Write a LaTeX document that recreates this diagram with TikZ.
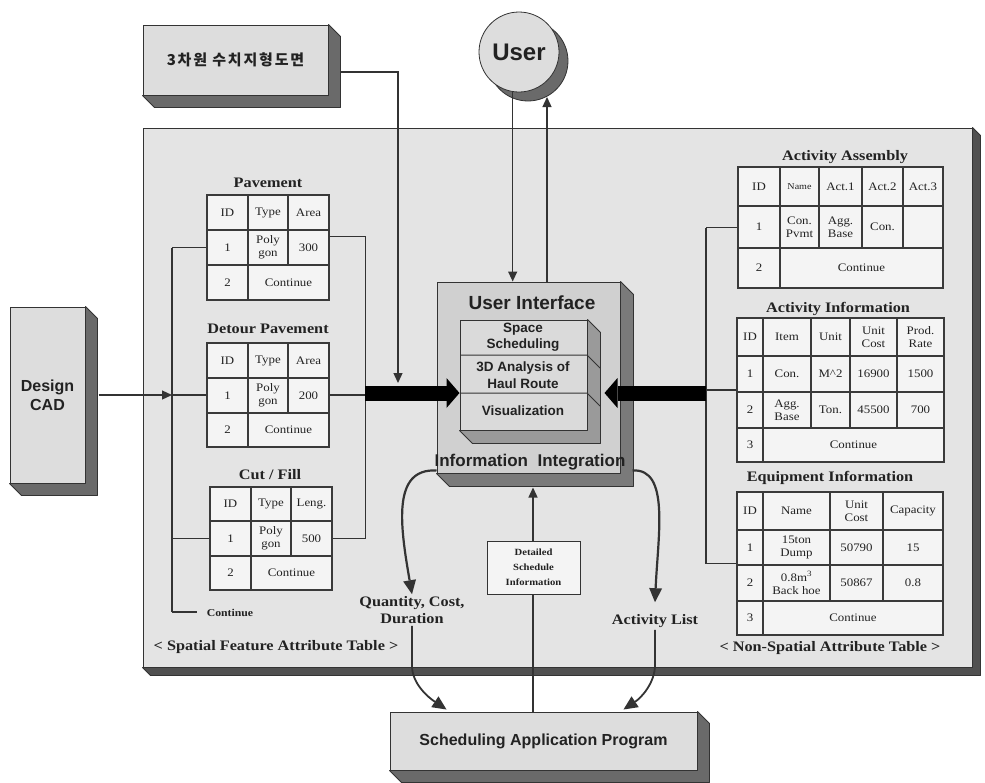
\documentclass[tikz,border=0pt]{standalone}
\usepackage{fontspec}
\setmainfont{Liberation Serif}[FakeStretch=1.12]
\newfontfamily\sansf{Liberation Sans}
\newfontfamily\krf{Noto Sans CJK KR}[LetterSpace=12]
\usetikzlibrary{arrows.meta,calc}
\definecolor{panelc}{HTML}{E4E4E4}
\definecolor{linec}{HTML}{333333}
\definecolor{tfill}{HTML}{F4F4F4}
\definecolor{tline}{HTML}{3A3A3A}
\definecolor{shadec}{HTML}{505050}
\definecolor{boxc}{HTML}{DDDDDD}
\definecolor{sidec}{HTML}{6A6A6A}
\definecolor{uic}{HTML}{D0D0D0}
\definecolor{uiside}{HTML}{7A7A7A}
\definecolor{innerc}{HTML}{DADADA}
\definecolor{innerside}{HTML}{9A9A9A}
\definecolor{txtc}{HTML}{222222}
\newcommand\tdshade[3]{%
  \filldraw[fill=#3, draw=linec, line width=0.8pt, line join=round]
    (#1.north east) -- ++(#2,#2) -- ($(#1.south east)+(#2,#2)$) -- ($(#1.south west)+(#2,#2)$) -- (#1.south west) -- (#1.south east) -- cycle;}
\begin{document}
\begin{tikzpicture}[x=1pt,y=-1pt,
  panel/.style={draw=linec,fill=panelc,line width=1pt,inner sep=0pt},
  box3d/.style={draw=linec,fill=boxc,line width=1pt,inner sep=0pt,align=center,text=txtc},
  tbl/.style={draw=tline,fill=tfill,line width=1.3pt,inner sep=0pt},
  tl/.style={draw=tline,line width=1.3pt},
  cell/.style={font=\fontsize{11.5}{13}\selectfont,align=center,inner sep=0pt,text=txtc},
  ttl/.style={font=\bfseries\fontsize{14.5}{16}\selectfont,inner sep=1pt,text=txtc},
  conn/.style={draw=linec,line width=1.3pt},
  arrowhd/.style={conn,-{Triangle[length=10pt,width=9pt]}},
  bigarrow/.style={draw=black,line width=15pt,-{Triangle[length=13pt,width=30pt,line width=0pt]}},
  curvearrow/.style={draw=linec,line width=2.2pt,-{Triangle[length=14pt,width=13pt,line width=0pt]}},
  lbl/.style={font=\bfseries\fontsize{14.5}{17}\selectfont,align=center,inner sep=2pt,text=txtc},
  uitext/.style={align=center,inner sep=0pt,text=txtc}
]
\useasboundingbox (0,0) rectangle (985,782);
\fill[white] (0,0) rectangle (985,782);

% main panel
\node[panel, minimum width=829pt, minimum height=539pt] (panel) at (557.5,397.5) {};
\tdshade{panel}{8}{shadec}

% user circle
\filldraw[fill=sidec, draw=linec, line width=0.8pt] (528,61) circle (40pt);
\node[circle, draw=linec, fill=boxc, line width=0.8pt, minimum size=80pt, inner sep=0pt, text=txtc,
  font=\sansf\bfseries\fontsize{24}{24}\selectfont] (user) at (519,52) {User};

% 3D terrain map box
\node[box3d, minimum width=185pt, minimum height=70pt, font=\krf\bfseries\fontsize{15}{15}\selectfont] (kr) at (235.5,60) {3차원 수치지형도면};
\tdshade{kr}{12}{sidec}

% Design CAD
\node[box3d, minimum width=75pt, minimum height=176pt, font=\sansf\bfseries\fontsize{16}{19}\selectfont] (dcad) at (47.5,395) {Design\\CAD};
\tdshade{dcad}{12}{sidec}

% ---------- left tables ----------
\node[ttl] (tpav) at (268,183) {Pavement};
\node[tbl, minimum width=122pt, minimum height=105pt] (pav) at (268,247.5) {};
\draw[tl] (207,230) -- (329,230) (207,265) -- (329,265) (248,195) -- (248,300) (288,195) -- (288,265);
\node[cell] (pa1) at (227.5,212.5) {ID};
\node[cell] (pa2) at (268,212.5) {Type};
\node[cell] (pa3) at (308.5,212.5) {Area};
\node[cell] (pa4) at (227.5,247.5) {1};
\node[cell] (pa5) at (268,247.5) {Poly\\gon};
\node[cell] (pa6) at (308.5,247.5) {300};
\node[cell] (pa7) at (227.5,282.5) {2};
\node[cell] (pa8) at (288.5,282.5) {Continue};

\node[ttl] (tdet) at (268,329) {Detour Pavement};
\node[tbl, minimum width=122pt, minimum height=104pt] (det) at (268,395) {};
\draw[tl] (207,378) -- (329,378) (207,413) -- (329,413) (248,343) -- (248,447) (288,343) -- (288,413);
\node[cell] (de1) at (227.5,360.5) {ID};
\node[cell] (de2) at (268,360.5) {Type};
\node[cell] (de3) at (308.5,360.5) {Area};
\node[cell] (de4) at (227.5,395.5) {1};
\node[cell] (de5) at (268,395.5) {Poly\\gon};
\node[cell] (de6) at (308.5,395.5) {200};
\node[cell] (de7) at (227.5,430) {2};
\node[cell] (de8) at (288.5,430) {Continue};

\node[ttl] (tcut) at (270,475) {Cut / Fill};
\node[tbl, minimum width=122pt, minimum height=103pt] (cut) at (271,538.5) {};
\draw[tl] (210,521) -- (332,521) (210,556) -- (332,556) (251,487) -- (251,590) (291,487) -- (291,556);
\node[cell] (cu1) at (230.5,504) {ID};
\node[cell] (cu2) at (271,504) {Type};
\node[cell] (cu3) at (311.5,504) {Leng.};
\node[cell] (cu4) at (230.5,538.5) {1};
\node[cell] (cu5) at (271,538.5) {Poly\\gon};
\node[cell] (cu6) at (311.5,538.5) {500};
\node[cell] (cu7) at (230.5,573) {2};
\node[cell] (cu8) at (291.5,573) {Continue};

% ---------- right tables ----------
\node[ttl] (tasm) at (845,157) {Activity Assembly};
\node[tbl, minimum width=205pt, minimum height=121pt] (asm) at (840.5,227.5) {};
\draw[tl] (738,206) -- (943,206) (738,248) -- (943,248) (780,167) -- (780,288)
  (819,167) -- (819,248) (862,167) -- (862,248) (903,167) -- (903,248);
\node[cell] (as1) at (759,186.5) {ID};
\node[cell, font=\fontsize{9}{11}\selectfont] (as2) at (799.5,186.5) {Name};
\node[cell] (as3) at (840.5,186.5) {Act.1};
\node[cell] (as4) at (882.5,186.5) {Act.2};
\node[cell] (as5) at (923,186.5) {Act.3};
\node[cell] (as6) at (759,227) {1};
\node[cell] (as7) at (799.5,227) {Con.\\Pvmt};
\node[cell] (as8) at (840.5,227) {Agg.\\Base};
\node[cell] (as9) at (882.5,227) {Con.};
\node[cell] (as10) at (759,268) {2};
\node[cell] (as11) at (861.5,268) {Continue};

\node[ttl] (tainf) at (838,309) {Activity Information};
\node[tbl, minimum width=207pt, minimum height=144pt] (ainf) at (840.5,390) {};
\draw[tl] (737,356) -- (944,356) (737,392) -- (944,392) (737,428) -- (944,428)
  (763,318) -- (763,462) (811,318) -- (811,428) (850,318) -- (850,428) (897,318) -- (897,428);
\node[cell] (ai1) at (750,337) {ID};
\node[cell] (ai2) at (787,337) {Item};
\node[cell] (ai3) at (830.5,337) {Unit};
\node[cell] (ai4) at (873.5,337) {Unit\\Cost};
\node[cell] (ai5) at (920.5,337) {Prod.\\Rate};
\node[cell] (ai6) at (750,374) {1};
\node[cell] (ai7) at (787,374) {Con.};
\node[cell] (ai8) at (830.5,374) {M\string^2};
\node[cell] (ai9) at (873.5,374) {16900};
\node[cell] (ai10) at (920.5,374) {1500};
\node[cell] (ai11) at (750,410) {2};
\node[cell] (ai12) at (787,410) {Agg.\\Base};
\node[cell] (ai13) at (830.5,410) {Ton.};
\node[cell] (ai14) at (873.5,410) {45500};
\node[cell] (ai15) at (920.5,410) {700};
\node[cell] (ai16) at (750,445) {3};
\node[cell] (ai17) at (853.5,445) {Continue};

\node[ttl] (teq) at (830,478) {Equipment Information};
\node[tbl, minimum width=206pt, minimum height=143pt] (eq) at (840,563.5) {};
\draw[tl] (737,530) -- (943,530) (737,565) -- (943,565) (737,601) -- (943,601)
  (763,492) -- (763,635) (830,492) -- (830,601) (883,492) -- (883,601);
\node[cell] (eq1) at (750,511) {ID};
\node[cell] (eq2) at (796.5,511) {Name};
\node[cell] (eq3) at (856.5,511) {Unit\\Cost};
\node[cell] (eq4) at (913,511) {Capacity};
\node[cell] (eq5) at (750,547.5) {1};
\node[cell] (eq6) at (796.5,547.5) {15ton\\Dump};
\node[cell] (eq7) at (856.5,547.5) {50790};
\node[cell] (eq8) at (913,547.5) {15};
\node[cell] (eq9) at (750,583) {2};
\node[cell] (eq10) at (796.5,583) {0.8m\textsuperscript{3}\\Back hoe};
\node[cell] (eq11) at (856.5,583) {50867};
\node[cell] (eq12) at (913,583) {0.8};
\node[cell] (eq13) at (750,618) {3};
\node[cell] (eq14) at (853,618) {Continue};

% ---------- left bracket ----------
\coordinate (lbx) at (172,612);
\draw[conn] (pav.west -| lbx) -- (lbx);
\draw[conn] (pav.west) -- (pav.west -| lbx);
\draw[conn] (det.west) -- (det.west -| lbx);
\draw[conn] (cut.west) -- (cut.west -| lbx);
\node[font=\bfseries\fontsize{10.5}{12}\selectfont, text=txtc] (contl) at (230,613) {Continue};
\draw[conn] (lbx) -- ++(25,0);
\draw[arrowhd] ($(det.west -| dcad.east)+(13,0)$) -- (det.west -| lbx);

% right connector of left tables
\draw[conn] ($(pav.east)+(0,-11)$) -| ($(cut.east)+(33,0)$) -- (cut.east);
\coordinate (rbx) at (365,393);
\draw[conn] (det.east) -- (det.east -| rbx);

% ---------- right bracket ----------
\coordinate (lbx2) at (706,393);
\draw[conn] (asm.west -| lbx2) -- (eq.west -| lbx2);
\draw[conn] (asm.west) -- (asm.west -| lbx2);
\draw[conn] (ainf.west) -- (ainf.west -| lbx2);
\draw[conn] (eq.west) -- (eq.west -| lbx2);

% ---------- User Interface box ----------
\node[draw=linec, fill=uic, line width=1pt, minimum width=183pt, minimum height=191pt, inner sep=0pt] (ui) at (528.5,377.5) {};
\tdshade{ui}{13}{uiside}
\node[draw=linec, fill=innerc, line width=1pt, minimum width=127pt, minimum height=110pt, inner sep=0pt] (inner) at (523.5,375) {};
\tdshade{inner}{13}{innerside}
\draw[draw=linec, line width=1pt] (460,355) -- (587,355) -- ++(13,13) (460,393) -- (587,393) -- ++(13,13);
\node[uitext, font=\sansf\bfseries\fontsize{19}{19}\selectfont] (uit) at (532,303) {User Interface};
\node[uitext, font=\sansf\bfseries\fontsize{13.5}{16.5}\selectfont] (sps) at (523,337) {Space\\Scheduling};
\node[uitext, font=\sansf\bfseries\fontsize{13.5}{16.5}\selectfont] (ana) at (523,375) {3D Analysis of\\Haul Route};
\node[uitext, font=\sansf\bfseries\fontsize{13.5}{16.5}\selectfont] (vis) at (523,411) {Visualization};
\node[uitext, font=\sansf\bfseries\fontsize{17}{17}\selectfont] (iit) at (530,462) {Information\ \ Integration};

% big arrows
\draw[bigarrow] (rbx) -- (rbx -| inner.west);
\draw[bigarrow] (lbx2) -- ($(lbx2 -| ui.east)+(-16,0)$);

% user arrows
\draw[arrowhd] (user.261) -- (user.261 |- ui.north);
\coordinate (ush) at (547,97);
\draw[arrowhd] (ui.north -| ush) -- (ush);

% terrain map arrow
\coordinate (krend) at (398,383);
\draw[arrowhd] ($(kr.east)+(12,12)$) -| (krend);

% ---------- bottom part ----------
\node[box3d, minimum width=307pt, minimum height=58pt, font=\sansf\bfseries\fontsize{16}{16}\selectfont] (sched) at (543.5,741) {Scheduling Application Program};
\tdshade{sched}{12}{sidec}

\node[lbl] (qcd) at (412,610) {Quantity, Cost,\\Duration};
\node[lbl] (alist) at (655,621) {Activity List};
\draw[curvearrow] ($(ui.south west)+(0,-3)$) .. controls (392,468) and (400,525) .. (qcd.north);
\draw[curvearrow] ($(ui.south east)+(12,-3)$) .. controls (670,468) and (658,535) .. ($(alist.north)+(0,-10)$);
\draw[curvearrow, line width=1.8pt] (qcd.south) -- ++(0,40) .. controls +(0,18) and +(-18,-12) .. ($(sched.north west)+(57,-2)$);
\draw[curvearrow, line width=1.8pt] (alist.south) -- ++(0,35) .. controls +(0,18) and +(18,-12) .. ($(sched.north east)+(-74,-2)$);

\coordinate (dtip) at ($(ui.south)+(4.5,14)$);
\draw[arrowhd] (sched.north -| dtip) -- (dtip);
\node[draw=linec, fill=tfill, line width=1pt, minimum width=93pt, minimum height=53pt, inner sep=0pt, text=txtc,
  font=\bfseries\fontsize{9.5}{15}\selectfont, align=center] (dsi) at (533.5,567.5) {Detailed\\Schedule\\Information};

\node[lbl] (spl) at (276,647) {< Spatial Feature Attribute Table >};
\node[lbl] (nspl) at (830,648) {< Non-Spatial Attribute Table >};
\end{tikzpicture}
\end{document}
